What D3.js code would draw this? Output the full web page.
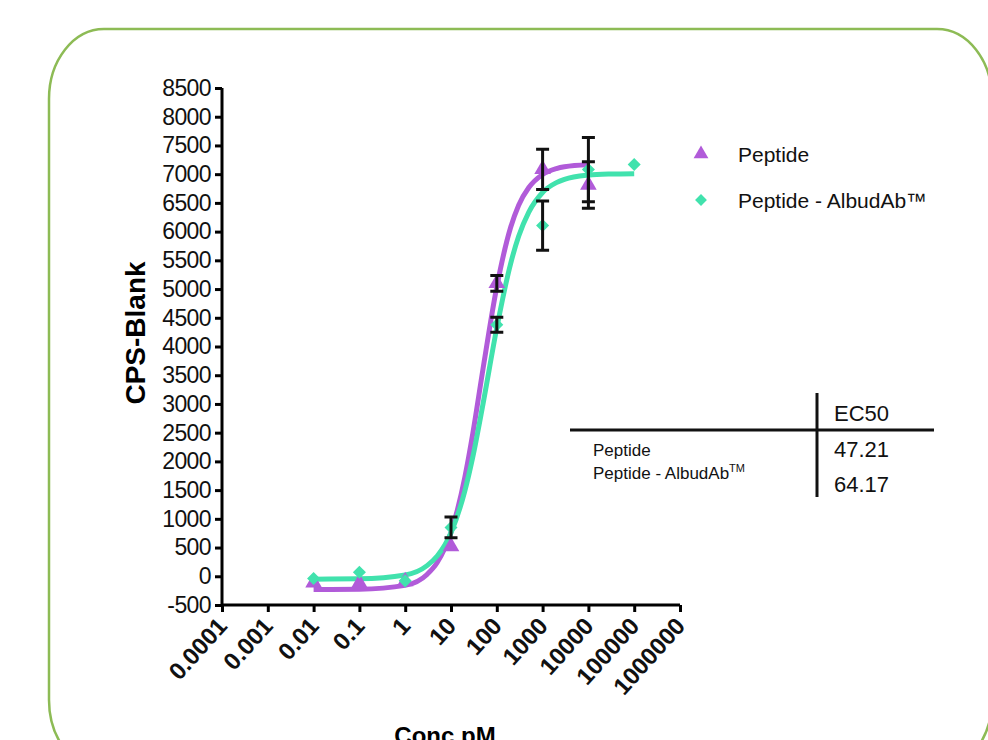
<!DOCTYPE html>
<html>
<head>
<meta charset="utf-8">
<script src="https://cdn.jsdelivr.net/npm/d3@7"></script>
<style>
  html, body { margin: 0; padding: 0; background: #fff; }
  svg { display: block; font-family: Arial, "Liberation Sans", sans-serif; }
</style>
</head>
<body>
<div id="chart"></div>
<script>
// ----- data -----
const seriesNames = ['Peptide', 'Peptide - AlbudAb']
const seriesColors = ['#b15bd9', '#41e2ad']

// measured points (mean, error bar half-length)
const peptideConc = [0.01, 0.1, 1, 10, 100, 1000, 10000]
const peptideMean = [-110, -120, -90, 520, 5100, 7085, 6812]
const peptideErr = [0, 0, 0, 0, 137, 350, 406]

const albuConc = [0.01, 0.1, 1, 10, 100, 1000, 10000, 100000]
const albuMean = [-40, 70, -80, 850, 4380, 6105, 7080, 7170]
const albuErr = [0, 0, 0, 180, 130, 430, 560, 0]

// fitted curves
const peptideCurveX = [0.01, 0.1, 1, 3, 5, 10, 20, 30, 50, 100, 200, 300, 500, 1000, 2000, 3000, 10000]
const peptideCurveY = [-230, -225, -158, 32, 239, 766, 1720, 2490, 3610, 5040, 6070, 6460, 6767, 6995, 7098, 7130, 7165]
const albuCurveX = [0.01, 0.1, 1, 3, 5, 10, 20, 30, 50, 100, 200, 300, 500, 1000, 2000, 3000, 10000, 30000, 100000]
const albuCurveY = [-50, -44, 22, 185, 352, 759, 1484, 2083, 3000, 4324, 5440, 5918, 6340, 6682, 6853, 6910, 6983, 7002, 7008]

const yTicks = d3.range(-500, 8501, 500)
const xTicks = [0.0001, 0.001, 0.01, 0.1, 1, 10, 100, 1000, 10000, 100000, 1000000]
const xTickLabels = ['0.0001', '0.001', '0.01', '0.1', '1', '10', '100', '1000', '10000', '100000', '1000000']

const tableHeader = 'EC50'
const ec50Values = ['47.21', '64.17']

// ----- layout -----
const width = 988
const height = 740
const plot = { left: 222, right: 680, top: 88, bottom: 605 }

const xScale = d3.scaleLog().domain([1e-4, 1e6]).range([plot.left, plot.right])
const yScale = d3.scaleLinear().domain([-500, 8500]).range([plot.bottom, plot.top])

const svg = d3.select('#chart').append('svg').attr('width', width).attr('height', height)
svg.append('rect').attr('width', width).attr('height', height).attr('fill', '#fff')

// green rounded frame
svg.append('rect')
  .attr('x', 49).attr('y', 29).attr('width', 943).attr('height', 741)
  .attr('rx', 55).attr('ry', 70)
  .attr('fill', 'none').attr('stroke', '#8dbb55').attr('stroke-width', 2.5)

// ----- axes -----
const yAxis = d3.axisLeft(yScale).tickValues(yTicks).tickSize(7).tickPadding(4).tickFormat(d => String(d))
const gy = svg.append('g').attr('transform', `translate(${plot.left},0)`).call(yAxis)
gy.select('.domain').attr('stroke-width', 3).attr('d', `M0,${plot.top}V${plot.bottom}`)
gy.selectAll('.tick line').attr('stroke-width', 3)
gy.selectAll('.tick text').attr('font-size', 23).attr('fill', '#111').attr('font-family', 'Arial, "Liberation Sans", sans-serif').attr('letter-spacing', -0.6)

const xAxis = d3.axisBottom(xScale).tickValues(xTicks).tickSize(7).tickFormat((d, i) => xTickLabels[i])
const gx = svg.append('g').attr('transform', `translate(0,${plot.bottom})`).call(xAxis)
gx.select('.domain').attr('stroke-width', 3).attr('d', `M${plot.left},0H${plot.right}`)
gx.selectAll('.tick line').attr('stroke-width', 3)
gx.selectAll('.tick text')
  .attr('font-size', 24).attr('font-weight', 'bold').attr('fill', '#111')
  .attr('font-family', 'Arial, "Liberation Sans", sans-serif')
  .attr('text-anchor', 'end').attr('dy', null).attr('y', 0)
  .attr('transform', 'translate(6,22) rotate(-48)')

// axis titles
svg.append('text')
  .attr('transform', 'translate(145,333) rotate(-90)')
  .attr('text-anchor', 'middle').attr('font-size', 28).attr('font-weight', 'bold')
  .text('CPS-Blank')
svg.append('text')
  .attr('x', 445).attr('y', 744).attr('text-anchor', 'middle')
  .attr('font-size', 24).attr('font-weight', 'bold')
  .text('Conc pM')

// ----- curves -----
const line = d3.line().x(d => xScale(d[0])).y(d => yScale(d[1])).curve(d3.curveMonotoneX)
const curves = [
  d3.zip(peptideCurveX, peptideCurveY),
  d3.zip(albuCurveX, albuCurveY)
]
curves.forEach((c, i) => {
  svg.append('path').datum(c)
    .attr('d', line)
    .attr('fill', 'none')
    .attr('stroke', seriesColors[i])
    .attr('stroke-width', 5)
})

// ----- points + error bars -----
const triangle = d3.symbol().type(d3.symbolTriangle).size(120)
const diamond = d3.symbol().type(d3.symbolSquare).size(85) // rotated 45deg below
const series = [
  { conc: peptideConc, mean: peptideMean, err: peptideErr, shape: triangle, rot: 0, color: seriesColors[0] },
  { conc: albuConc, mean: albuMean, err: albuErr, shape: diamond, rot: 45, color: seriesColors[1] }
]

series.forEach(s => {
  const pts = s.conc.map((c, i) => ({ c, m: s.mean[i], e: s.err[i] }))
  const g = svg.append('g')
  g.selectAll('path.pt').data(pts).enter().append('path')
    .attr('class', 'pt')
    .attr('d', s.shape)
    .attr('transform', d => `translate(${xScale(d.c)},${yScale(d.m)}) rotate(${s.rot})`)
    .attr('fill', s.color)
})

series.forEach(s => {
  const pts = s.conc.map((c, i) => ({ c, m: s.mean[i], e: s.err[i] })).filter(d => d.e > 0)
  const g = svg.append('g').attr('stroke', '#111').attr('stroke-width', 3).attr('fill', 'none')
  pts.forEach(d => {
    const x = xScale(d.c)
    const y1 = yScale(d.m + d.e)
    const y2 = yScale(d.m - d.e)
    g.append('path').attr('d', `M${x},${y1}V${y2}M${x - 6.5},${y1}H${x + 6.5}M${x - 6.5},${y2}H${x + 6.5}`)
  })
})

// ----- legend -----
const legend = svg.append('g')
legend.append('path').attr('d', d3.symbol().type(d3.symbolTriangle).size(95)()).attr('transform', 'translate(701,154)').attr('fill', seriesColors[0])
legend.append('path').attr('d', d3.symbol().type(d3.symbolSquare).size(70)()).attr('transform', 'translate(701,200) rotate(45)').attr('fill', seriesColors[1])
legend.append('text').attr('x', 738).attr('y', 162).attr('font-size', 21).attr('fill', '#111').text(seriesNames[0])
legend.append('text').attr('x', 738).attr('y', 208).attr('font-size', 21).attr('fill', '#111').text(seriesNames[1] + '\u2122')

// ----- EC50 table -----
const table = svg.append('g').attr('fill', '#111')
table.append('line').attr('x1', 570).attr('x2', 934).attr('y1', 430).attr('y2', 430).attr('stroke', '#111').attr('stroke-width', 3)
table.append('line').attr('x1', 817).attr('x2', 817).attr('y1', 393).attr('y2', 497).attr('stroke', '#111').attr('stroke-width', 3)
table.append('text').attr('x', 834).attr('y', 421).attr('font-size', 22).text(tableHeader)
table.append('text').attr('x', 834).attr('y', 457).attr('font-size', 22).text(ec50Values[0])
table.append('text').attr('x', 834).attr('y', 492).attr('font-size', 22).text(ec50Values[1])
table.append('text').attr('x', 593).attr('y', 456).attr('font-size', 17).text(seriesNames[0])
const t2 = table.append('text').attr('x', 593).attr('y', 479).attr('font-size', 17).text(seriesNames[1])
t2.append('tspan').attr('font-size', 11).attr('dy', -7).text('TM')
</script>
</body>
</html>
